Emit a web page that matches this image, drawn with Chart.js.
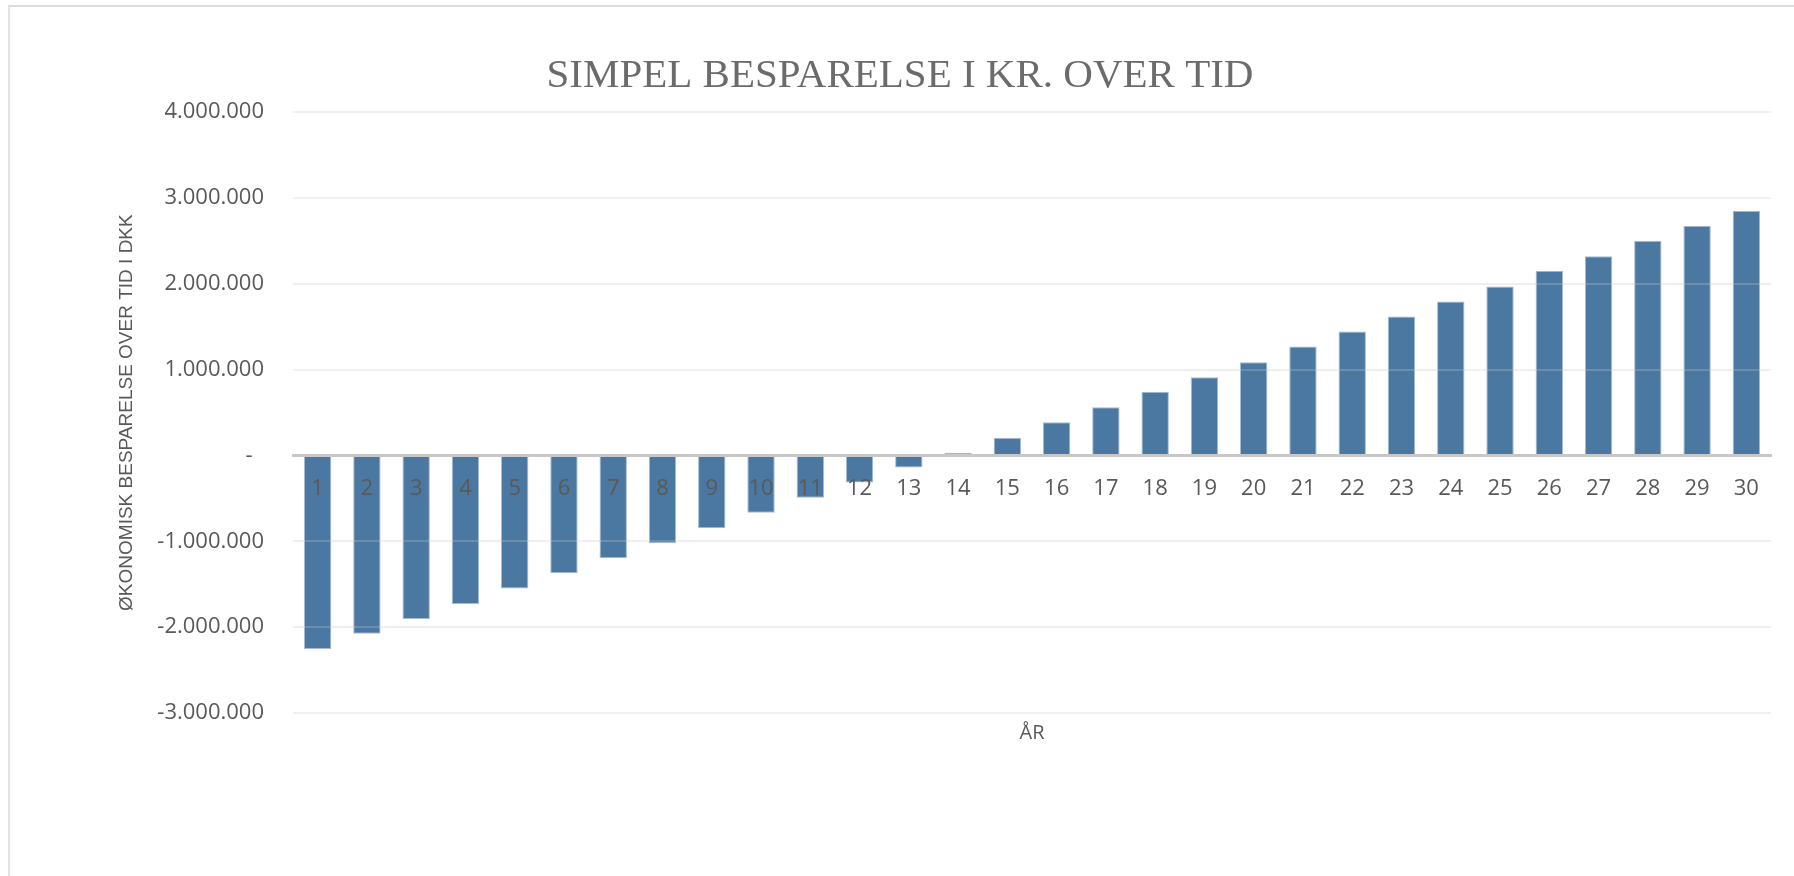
<!DOCTYPE html>
<html lang="da">
<head>
    <meta charset="UTF-8">
    <title>Simpel besparelse i kr. over tid</title>
    <script src="https://cdn.jsdelivr.net/npm/chart.js"></script>
    <style>
        html, body { margin: 0; padding: 0; background: #fff; overflow: hidden; }
        #frame { position: absolute; left: 8px; top: 5px; width: 2000px; height: 1000px;
                 border-top: 2px solid #dcdcdc; border-left: 2px solid #e4e4e4; }
        #wrap { position: absolute; left: 0; top: 0; width: 1794px; height: 876px; }
    </style>
</head>
<body>
    <div id="frame"></div>
    <div id="wrap"><canvas id="savingsChart"></canvas></div>
    <script>
        // years 1..30
        const years = ['1','2','3','4','5','6','7','8','9','10','11','12','13','14','15',
                       '16','17','18','19','20','21','22','23','24','25','26','27','28','29','30'];
        // savings in DKK
        const savings = [-2253000, -2078000, -1904000, -1729000, -1550000, -1371000, -1197000,
                         -1022000, -847000, -668000, -493000, -315000, -140000, 31000, 206000,
                         388000, 563000, 742000, 913000, 1088000, 1270000, 1445000, 1620000,
                         1795000, 1970000, 2152000, 2323000, 2502000, 2677000, 2852000];
        const yMin = -3000000;
        const yMax = 4000000;
        const yStep = 1000000;

        const grey = '#595959';

        function dkk(v) {
            if (v === 0) return '-  ';
            const s = Math.abs(v).toFixed(0).replace(/\B(?=(\d{3})+(?!\d))/g, '.');
            return (v < 0 ? '-' : '') + s;
        }

        new Chart(document.getElementById('savingsChart'), {
            type: 'bar',
            data: {
                labels: years,
                datasets: [{
                    label: 'Besparelse',
                    data: savings,
                    xAxisID: 'x',
                    yAxisID: 'y',
                    backgroundColor: '#4b78a1',
                    borderColor: '#a4bbd3',
                    borderWidth: 1,
                    categoryPercentage: 1,
                    barPercentage: 0.556
                }]
            },
            options: {
                responsive: true,
                maintainAspectRatio: false,
                animation: false,
                layout: { padding: { left: 29, right: 23, top: 0, bottom: 131 } },
                plugins: {
                    legend: { display: false },
                    tooltip: { enabled: false },
                    title: {
                        display: true,
                        text: 'SIMPEL BESPARELSE I KR. OVER TID',
                        color: '#6b6b6b',
                        font: { family: 'Liberation Serif', size: 41, weight: 'normal' },
                        padding: { top: 52, bottom: 11 }
                    }
                },
                scales: {
                    x: {
                        type: 'category',
                        position: { y: 0 },
                        offset: true,
                        grid: { display: false, drawTicks: false },
                        border: { color: '#c8c8c8', width: 3, z: 1 },
                        ticks: {
                            z: 1,
                            color: grey,
                            padding: 20,
                            maxRotation: 0,
                            autoSkip: false,
                            font: { family: 'Open Sans', size: 22 }
                        }
                    },
                    x2: {
                        type: 'category',
                        position: 'bottom',
                        grid: { display: false, drawTicks: false },
                        border: { display: false },
                        ticks: { display: false },
                        title: {
                            display: true,
                            text: 'ÅR',
                            color: grey,
                            font: { family: 'Open Sans', size: 20 },
                            padding: { top: 8, bottom: 0 }
                        }
                    },
                    y: {
                        min: yMin,
                        max: yMax,
                        afterFit: (scale) => { scale.width = 264; },
                        grid: { color: 'rgba(200,200,200,0.27)', lineWidth: 2, drawTicks: false, z: 1 },
                        border: { display: false },
                        ticks: {
                            stepSize: yStep,
                            color: grey,
                            padding: 29,
                            font: { family: 'Open Sans', size: 22 },
                            callback: (v) => dkk(v)
                        },
                        title: {
                            display: true,
                            text: 'ØKONOMISK BESPARELSE OVER TID I DKK',
                            color: grey,
                            font: { family: 'Liberation Sans', size: 19 },
                            padding: { top: 86, bottom: 0 }
                        }
                    }
                }
            }
        });
    </script>
</body>
</html>
